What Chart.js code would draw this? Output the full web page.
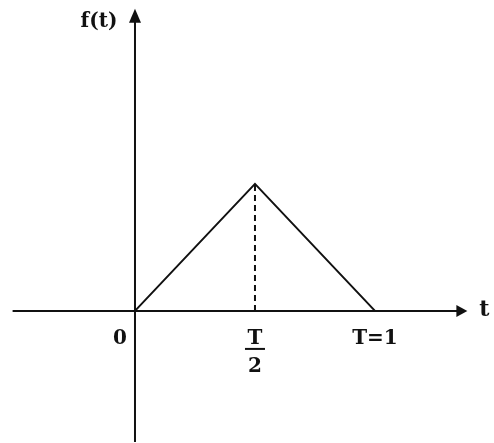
<!DOCTYPE html>
<html>
<head>
<meta charset="utf-8">
<script src="https://cdn.jsdelivr.net/npm/chart.js@4"></script>
<style>
  html, body { margin: 0; padding: 0; background: #fff; }
</style>
</head>
<body>
<canvas id="chart" width="494" height="443"></canvas>
<script>
// triangle f(t) with peak at T/2, T = 1
const tValues = [0, 0.5, 1];
const fValues = [0, 0.5, 0];
const peakT = [0.5, 0.5];
const peakF = [0, 0.5];
const tickTs = [0, 0.5, 1];
const tickLabels = ['0', 'T/2', 'T=1'];
const xAxisFrom = -0.51, xAxisTo = 1.385;
const yAxisFrom = -0.516, yAxisTo = 1.19;

const FONT = 'bold 20px "DejaVu Serif", serif';

// Draws the two arrowed axes and the tick labels at value positions
const axesPlugin = {
    id: 'axes',
    beforeDatasetsDraw(chart) {
        const ctx = chart.ctx;
        const xs = chart.scales.x, ys = chart.scales.y;
        const x0 = xs.getPixelForValue(0), y0 = ys.getPixelForValue(0);
        const xEnd = xs.getPixelForValue(xAxisTo), yEnd = ys.getPixelForValue(yAxisTo);
        ctx.save();
        ctx.strokeStyle = '#111';
        ctx.fillStyle = '#111';
        ctx.lineWidth = 2;
        // horizontal axis
        ctx.beginPath();
        ctx.moveTo(xs.getPixelForValue(xAxisFrom), y0);
        ctx.lineTo(xEnd - 8, y0);
        ctx.stroke();
        ctx.beginPath();
        ctx.moveTo(xEnd, y0);
        ctx.lineTo(xEnd - 11, y0 - 6);
        ctx.lineTo(xEnd - 11, y0 + 6);
        ctx.closePath();
        ctx.fill();
        // vertical axis
        ctx.beginPath();
        ctx.moveTo(x0, ys.getPixelForValue(yAxisFrom));
        ctx.lineTo(x0, yEnd + 8);
        ctx.stroke();
        ctx.beginPath();
        ctx.moveTo(x0, yEnd);
        ctx.lineTo(x0 - 6, yEnd + 14);
        ctx.lineTo(x0 + 6, yEnd + 14);
        ctx.closePath();
        ctx.fill();

        // labels
        ctx.textBaseline = 'middle';
        ctx.textAlign = 'center';
        ctx.font = 'bold 22px "DejaVu Serif", serif';
        ctx.fillText('t', xEnd + 17, y0 - 1);
        ctx.font = FONT;
        ctx.fillText('f(t)', x0 - 36, yEnd + 13);
        tickTs.forEach((t, i) => {
            const px = xs.getPixelForValue(t);
            const lab = tickLabels[i];
            if (lab.indexOf('/') > 0) {
                const parts = lab.split('/');
                ctx.fillText(parts[0], px, y0 + 28);
                ctx.fillRect(px - 10, y0 + 37, 20, 2);
                ctx.fillText(parts[1], px, y0 + 56);
            } else if (t === 0) {
                ctx.fillText(lab, px - 15, y0 + 28);
            } else {
                ctx.fillText(lab, px, y0 + 28);
            }
        });
        ctx.restore();
    }
};

new Chart(document.getElementById('chart'), {
    type: 'scatter',
    data: {
        datasets: [{
            data: tValues.map((t, i) => ({ x: t, y: fValues[i] })),
            showLine: true,
            borderColor: '#111',
            borderWidth: 2,
            pointRadius: 0
        }, {
            data: peakT.map((t, i) => ({ x: t, y: peakF[i] })),
            showLine: true,
            borderColor: '#111',
            borderWidth: 2,
            borderDash: [6, 4],
            pointRadius: 0
        }]
    },
    options: {
        responsive: false,
        animation: false,
        layout: { padding: 0 },
        plugins: { legend: { display: false }, tooltip: { enabled: false } },
        scales: {
            x: { type: 'linear', display: false, min: -0.5625, max: 1.496 },
            y: { type: 'linear', display: false, min: -0.52, max: 1.224 }
        }
    },
    plugins: [axesPlugin]
});
</script>
</body>
</html>
